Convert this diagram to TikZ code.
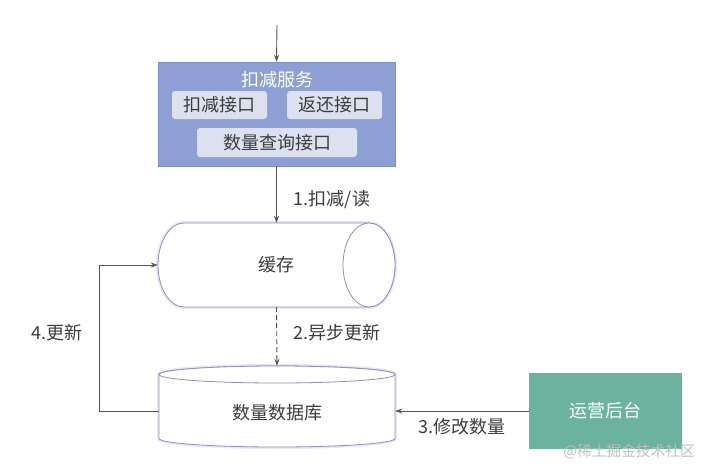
\documentclass[tikz,border=0pt]{standalone}
\usepackage{fontspec}
\setmainfont{Noto Sans CJK SC}
\usetikzlibrary{arrows.meta}
\definecolor{svcblue}{HTML}{8D9FD4}
\definecolor{svcborder}{HTML}{7D90C8}
\definecolor{innerfill}{HTML}{DCE1F0}
\definecolor{teal}{HTML}{6BB39F}
\definecolor{cylline}{HTML}{8C90C4}
\definecolor{glow}{HTML}{E6E8F6}
\definecolor{txt}{HTML}{3C3C3C}
\definecolor{lin}{HTML}{555555}
\begin{document}
\begin{tikzpicture}[x=1pt,y=1pt,
  lbl/.style={text=txt,font=\fontsize{18}{21}\selectfont,inner sep=0pt},
  innerbox/.style={fill=innerfill,rounded corners=3pt,text=txt,font=\fontsize{18}{21}\selectfont,inner sep=0pt},
  conn/.style={draw=lin,line width=0.9pt,-{Stealth[length=7pt,width=5pt]}},
  cyl/.style={draw=cylline,line width=0.8pt,fill=white},
  cylglow/.style={draw=glow,line width=4pt}
]
\useasboundingbox (0,0) rectangle (711,475);
\fill[white] (0,0) rectangle (711,475);

% service box
\node[draw=svcborder,fill=svcblue,minimum width=237pt,minimum height=104pt,inner sep=0pt] (svc) at (276.5,361) {};
\node[text=white,font=\fontsize{18}{21}\selectfont,inner sep=0pt] (svctitle) at (277,395) {扣减服务};
\node[innerbox,minimum width=95pt,minimum height=28pt] (i1) at (219.5,370) {扣减接口};
\node[innerbox,minimum width=95pt,minimum height=28pt] (i2) at (334.5,370) {返还接口};
\node[innerbox,minimum width=160pt,minimum height=29pt] (i3) at (277,332.5) {数量查询接口};
\coordinate (topin) at (277,450);
\draw[conn] (topin) -- (svc.north);

% cache (horizontal cylinder)
\node[minimum width=237pt,minimum height=84pt,inner sep=0pt] (cache) at (276.5,210) {};
\draw[cylglow] (184,252) -- (369,252) arc[start angle=90,end angle=-90,x radius=26,y radius=42] -- (184,168) arc[start angle=270,end angle=90,x radius=26,y radius=42] -- cycle;
\draw[cyl] (184,252) -- (369,252) arc[start angle=90,end angle=-90,x radius=26,y radius=42] -- (184,168) arc[start angle=270,end angle=90,x radius=26,y radius=42] -- cycle;
\draw[cyl] (369,210) ellipse[x radius=26,y radius=42];
\node[lbl] at (276,210) {缓存};

% database (vertical cylinder)
\node[minimum width=236pt,minimum height=81pt,inner sep=0pt] (db) at (277,68.5) {};
\draw[cylglow] (159,100.5) -- (159,36.5) arc[start angle=180,end angle=360,x radius=118,y radius=8.5] -- (395,100.5) arc[start angle=0,end angle=180,x radius=118,y radius=8.5] -- cycle;
\draw[cyl] (159,100.5) -- (159,36.5) arc[start angle=180,end angle=360,x radius=118,y radius=8.5] -- (395,100.5) arc[start angle=0,end angle=180,x radius=118,y radius=8.5] -- cycle;
\draw[cyl] (277,100.5) ellipse[x radius=118,y radius=8.5];
\node[lbl] at (277,62) {数量数据库};

% ops box
\node[fill=teal,minimum width=153pt,minimum height=76pt,inner sep=0pt,text=white,font=\fontsize{18}{21}\selectfont] (ops) at (605.5,64) {运营后台};

% connectors
\draw[conn] (svc.south) -- (cache.north);
\node[lbl] at (332,275) {1.扣减/读};
\draw[conn,dashed,dash pattern=on 5pt off 3pt] (cache.south) -- (db.north);
\node[lbl] at (337,142) {2.异步更新};
\coordinate (loopl) at (99,64);
\coordinate (loopt) at (99,210);
\draw[conn] (159,64) -- (loopl) -- (loopt) -- (cache.west);
\node[lbl] at (57,142) {4.更新};
\draw[conn] (ops.west) -- (db.east |- ops.west);
\node[lbl] at (462,48) {3.修改数量};

% watermark
\node[text=black!25,font=\fontsize{14.7}{17}\selectfont,inner sep=0pt] at (629,23) {@稀土掘金技术社区};
\end{tikzpicture}
\end{document}
